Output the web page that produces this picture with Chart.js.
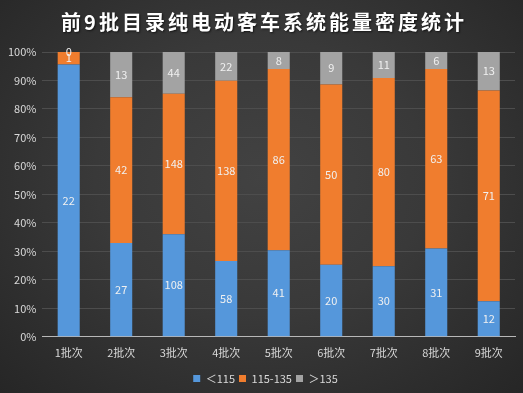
<!DOCTYPE html>
<html>
<head>
<meta charset="utf-8">
<script src="https://cdn.jsdelivr.net/npm/chart.js@4"></script>
<style>
html,body{margin:0;padding:0;}
body{width:523px;height:393px;overflow:hidden;background:radial-gradient(ellipse at 50% 45%, #424242 0%, #393939 45%, #262626 100%);}
#wrap{position:relative;width:523px;height:393px;}
</style>
</head>
<body>
<div id="wrap"><canvas id="c" width="523" height="393"></canvas></div>
<script>
const titleText = '前9批目录纯电动客车系统能量密度统计';
const categories = ['1批次','2批次','3批次','4批次','5批次','6批次','7批次','8批次','9批次'];
const seriesNames = ['＜115','115-135','＞135'];
const low = [22, 27, 108, 58, 41, 20, 30, 31, 12];
const mid = [1, 42, 148, 138, 86, 50, 80, 63, 71];
const high = [0, 13, 44, 22, 8, 9, 11, 6, 13];
const yTicks = ['0%','10%','20%','30%','40%','50%','60%','70%','80%','90%','100%'];
const colors = ['#5597DB', '#F07D2E', '#A3A3A3'];

const counts = [low, mid, high];
const totals = categories.map((_, i) => low[i] + mid[i] + high[i]);
const pct = counts.map(s => s.map((v, i) => v / totals[i] * 100));

const FONT = "'Noto Sans CJK SC', 'Noto Sans', sans-serif";

const titlePlugin = {
  id: 'customTitle',
  afterDraw(chart) {
    const ctx = chart.ctx;
    ctx.save();
    ctx.font = 'bold 20px ' + FONT;
    ctx.fillStyle = '#ffffff';
    ctx.textAlign = 'center';
    ctx.textBaseline = 'middle';
    try { ctx.letterSpacing = '3px'; } catch (e) {}
    ctx.shadowColor = 'rgba(0,0,0,0.6)';
    ctx.shadowBlur = 2;
    ctx.shadowOffsetX = 1;
    ctx.shadowOffsetY = 1;
    ctx.fillText(titleText, 264, 22);
    ctx.restore();
  }
};

const legendShift = {
  id: 'legendShift',
  afterLayout(chart) {
    if (chart.legend) {
      chart.legend.left += 7;
      chart.legend.right += 7;
      chart.legend.top += 1;
      chart.legend.bottom += 1;
    }
  }
};

const labelPlugin = {
  id: 'segLabels',
  afterDatasetsDraw(chart) {
    const ctx = chart.ctx;
    ctx.save();
    ctx.font = '11px ' + FONT;
    ctx.fillStyle = '#f0f0f0';
    ctx.textAlign = 'center';
    ctx.textBaseline = 'middle';
    chart.data.datasets.forEach((ds, di) => {
      const meta = chart.getDatasetMeta(di);
      meta.data.forEach((bar, i) => {
        const v = counts[di][i];
        const y = (bar.y + bar.base) / 2;
        ctx.fillText(String(v), bar.x, y);
      });
    });
    ctx.restore();
  }
};

new Chart(document.getElementById('c'), {
  type: 'bar',
  data: {
    labels: categories,
    datasets: seriesNames.map((n, k) => ({
      label: n,
      data: pct[k],
      backgroundColor: colors[k],
      borderWidth: 0,
      categoryPercentage: 1,
      barPercentage: 0.42
    }))
  },
  options: {
    responsive: false,
    animation: false,
    devicePixelRatio: 1,
    layout: { padding: { top: 52, left: 2, right: 8, bottom: 0 } },
    plugins: {
      title: { display: false },
      tooltip: { enabled: false },
      legend: {
        position: 'bottom',
        labels: {
          color: '#d9d9d9',
          font: { family: FONT, size: 11 },
          boxWidth: 7,
          boxHeight: 7,
          padding: 4
        }
      }
    },
    scales: {
      x: {
        stacked: true,
        grid: { display: false, drawTicks: false },
        border: { display: true, color: '#b8b8b8', width: 1 },
        ticks: { color: '#d9d9d9', font: { family: FONT, size: 11 }, padding: 9 }
      },
      y: {
        stacked: true,
        min: 0,
        max: 100,
        grid: { color: '#4d4d4d', drawTicks: false },
        border: { display: false },
        ticks: {
          stepSize: 10,
          color: '#d9d9d9',
          font: { family: FONT, size: 11 },
          padding: 6,
          callback: (v) => yTicks[Math.round(v / 10)]
        }
      }
    }
  },
  plugins: [titlePlugin, labelPlugin, legendShift]
});
</script>
</body>
</html>
